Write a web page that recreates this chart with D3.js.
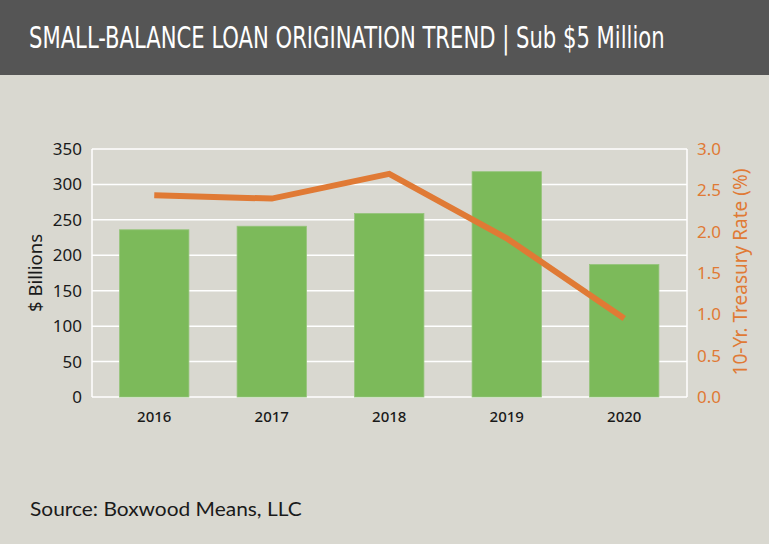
<!DOCTYPE html>
<html>
<head>
<meta charset="utf-8">
<script src="https://cdn.jsdelivr.net/npm/d3@7"></script>
<style>
  body { margin: 0; background: #d9d8d0; }
  svg { display: block; }
</style>
</head>
<body>
<svg id="chart" width="769" height="544"></svg>
<script>
// data
const years = ['2016', '2017', '2018', '2019', '2020'];
const volume = [236, 241, 259, 318, 187];        // $ billions
const treasury = [2.44, 2.40, 2.70, 1.92, 0.95];  // 10-yr rate, %
const leftTicks = [0, 50, 100, 150, 200, 250, 300, 350];
const rightTicks = [0, 0.5, 1, 1.5, 2, 2.5, 3];

const svg = d3.select('#chart');
const width = 769, height = 544;
const plot = { left: 92, right: 687, top: 149, bottom: 397 };

svg.append('rect').attr('width', width).attr('height', height).attr('fill', '#d9d8d0');

// header band
svg.append('rect').attr('width', width).attr('height', 75).attr('fill', '#555555');
const title = svg.append('text')
  .attr('x', 0).attr('y', 0)
  .attr('fill', '#fff')
  .attr('font-family', '"DejaVu Sans Condensed", "Liberation Sans Narrow", sans-serif')
  .attr('font-size', 30)
  .text('SMALL-BALANCE LOAN ORIGINATION TREND | Sub $5 Million');
// squeeze the title to the reference width (condensed face)
const tw = title.node().getComputedTextLength();
title.attr('transform', `translate(29, 48) scale(${636 / tw}, 1)`);

// scales
const x = d3.scaleBand().domain(years).range([95.5, 683]).paddingInner(0.41).paddingOuter(0.205);
const yL = d3.scaleLinear().domain([0, 350]).range([plot.bottom, plot.top]);
const yR = d3.scaleLinear().domain([0, 3]).range([plot.bottom, plot.top]);

// gridlines
svg.append('g')
  .selectAll('line')
  .data(leftTicks)
  .join('line')
  .attr('x1', plot.left).attr('x2', plot.right)
  .attr('y1', d => yL(d)).attr('y2', d => yL(d))
  .attr('stroke', '#fff').attr('stroke-width', 1.5);

svg.append('line')
  .attr('x1', plot.left).attr('x2', plot.left)
  .attr('y1', plot.top).attr('y2', plot.bottom)
  .attr('stroke', '#fff').attr('stroke-width', 1.5);
svg.append('line')
  .attr('x1', plot.right).attr('x2', plot.right)
  .attr('y1', plot.top).attr('y2', plot.bottom)
  .attr('stroke', '#fff').attr('stroke-width', 1.5);

// bars
svg.append('g')
  .selectAll('rect')
  .data(years)
  .join('rect')
  .attr('x', d => x(d))
  .attr('width', x.bandwidth())
  .attr('y', (d, i) => yL(volume[i]))
  .attr('height', (d, i) => plot.bottom - yL(volume[i]))
  .attr('fill', '#7cba5a')
  .attr('stroke', '#95c47a')
  .attr('stroke-width', 0.8);

// treasury line
const line = d3.line()
  .x((d, i) => x(years[i]) + x.bandwidth() / 2)
  .y(d => yR(d));
svg.append('path')
  .datum(treasury)
  .attr('d', line)
  .attr('fill', 'none')
  .attr('stroke', '#e07a35')
  .attr('stroke-width', 6);

// left axis
const axisFont = '"Noto Sans", "Open Sans", sans-serif';
const gL = svg.append('g')
  .attr('transform', `translate(${plot.left - 10}, 0)`)
  .call(d3.axisLeft(yL).tickValues(leftTicks).tickSize(0).tickPadding(0));
gL.select('.domain').remove();
gL.selectAll('text')
  .attr('font-family', axisFont).attr('font-size', 17).attr('fill', '#1a1a1a');

// right axis
const gR = svg.append('g')
  .attr('transform', `translate(${plot.right + 10}, 0)`)
  .call(d3.axisRight(yR).tickValues(rightTicks).tickFormat(d3.format('.1f')).tickSize(0).tickPadding(0));
gR.select('.domain').remove();
gR.selectAll('text')
  .attr('font-family', axisFont).attr('font-size', 17).attr('fill', '#e07a35');

// x axis
const gX = svg.append('g')
  .attr('transform', `translate(0, ${plot.bottom + 12})`)
  .call(d3.axisBottom(x).tickSize(0).tickPadding(2));
gX.select('.domain').remove();
gX.selectAll('text')
  .attr('font-family', axisFont).attr('font-size', 15).attr('font-weight', 500).attr('fill', '#1a1a1a');

// axis titles
svg.append('text')
  .attr('text-anchor', 'middle')
  .attr('transform', `translate(42, ${(plot.top + plot.bottom) / 2}) rotate(-90)`)
  .attr('font-family', axisFont).attr('font-size', 18.5).attr('fill', '#1a1a1a')
  .text('$ Billions');

svg.append('text')
  .attr('text-anchor', 'middle')
  .attr('transform', `translate(747, ${(plot.top + plot.bottom) / 2 - 1}) rotate(-90)`)
  .attr('font-family', axisFont).attr('font-size', 19).attr('fill', '#e07a35')
  .text('10-Yr. Treasury Rate (%)');

// source
const source = svg.append('text')
  .attr('x', 0).attr('y', 0)
  .attr('font-family', '"Lato", "Noto Sans", sans-serif').attr('font-size', 19).attr('fill', '#1a1a1a')
  .text('Source: Boxwood Means, LLC');
const sw = source.node().getComputedTextLength();
source.attr('transform', `translate(30, 516) scale(${272 / sw}, 1)`);
</script>
</body>
</html>
